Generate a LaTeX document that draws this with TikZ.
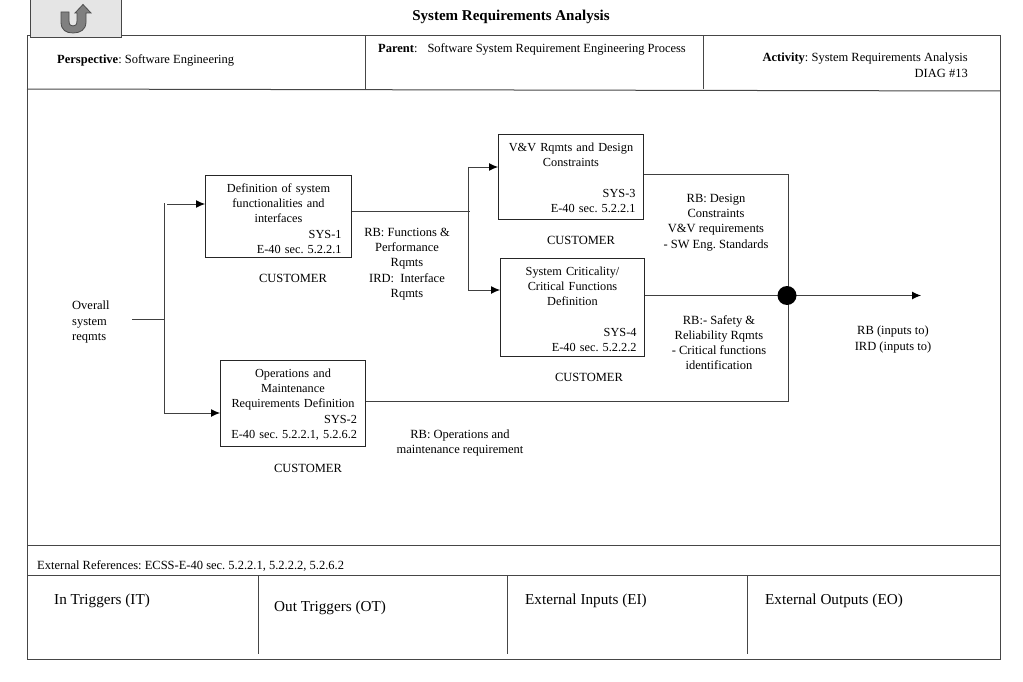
\documentclass[tikz,border=0pt]{standalone}
\usepackage{fontspec}
\setmainfont{Liberation Serif}
\usepackage{xcolor}
\usetikzlibrary{
	arrows.meta,
	calc
}
\definecolor{LineGray}{RGB}{70,70,70}
\definecolor{ButtonGray}{RGB}{229,229,229}
\definecolor{IconGray}{RGB}{128,128,128}
\tikzset{
	rule/.style={line width=1pt, LineGray},
	wire/.style={line width=0.9pt, black!75},
	flow/.style={wire, -{Latex[length=9pt,width=8pt,black]}},
	txt/.style={inner sep=0pt, align=center, font=\frenchspacing\fontsize{12.5}{15.2}\selectfont},
	leftxt/.style={txt, align=left, anchor=west},
	bigtxt/.style={inner sep=0pt, anchor=west, font=\fontsize{15.2}{17}\selectfont},
	funcbox/.style={draw=black!85, line width=1pt, anchor=north west, align=center, inner xsep=8pt, inner ysep=0pt, font=\frenchspacing\fontsize{12.3}{15.2}\selectfont}
}

\begin{document}
\begin{tikzpicture}[x=1pt, y=-1pt]
	\useasboundingbox (0,0) rectangle (1023,682);

	% frame
	\draw[rule] (27,36) -- (27,659) -- (1000,659) -- (1000,36) -- cycle;
	\draw[rule] (27,89) -- (1000,91);
	\draw[rule] (365,36) -- (365,89);
	\draw[rule] (703,36) -- (703,89);
	\draw[rule] (27,545) -- (1000,545);
	\draw[rule] (27,575) -- (1000,575);
	\draw[rule] (258,575) -- (258,654);
	\draw[rule] (507,575) -- (507,654);
	\draw[rule] (747,575) -- (747,654);

	% return button
	\draw[fill=ButtonGray, draw=LineGray, line width=1pt] (30,0) rectangle (121,38);
	\draw[fill=IconGray, draw=black!70, line width=0.8pt]
		(61,12) -- (69,12) -- (69,21) .. controls (69,25) and (71,26) .. (73,26)
		.. controls (75,26) and (77,25) .. (77,21) -- (77,13) -- (75,13) -- (83,4.5)
		-- (91,13) -- (86,13) -- (86,22) .. controls (86,30) and (80,33) .. (73,33)
		.. controls (66,33) and (61,30) .. (61,22) -- cycle;

	% title and header
	\node[txt, font=\fontsize{15}{17}\selectfont\bfseries] (title) at (511,17) {System Requirements Analysis};
	\node[leftxt] (persp) at (57,60.5) {\textbf{Perspective}: Software Engineering};
	\node[leftxt] (parent) at (378,49) {\textbf{Parent}:\hspace{10pt}Software System Requirement Engineering Process};
	\node[txt, align=right, anchor=north east] (activity) at (968,53) {\textbf{Activity}: System Requirements Analysis\\DIAG \#13};

	% function boxes
	\node[funcbox, inner xsep=10pt, text width=126pt] (sys1) at (205,175)
		{\rule{0pt}{17pt}Definition of system\\functionalities and\\interfaces\\\hfill SYS-1\\\hfill E-40 sec. 5.2.2.1\rule[-4pt]{0pt}{4pt}};
	\node[funcbox, text width=129pt] (sys3) at (498,134)
		{\rule{0pt}{17pt}V\&V Rqmts and Design\\Constraints\\[15.2pt]\hfill SYS-3\\\hfill E-40 sec. 5.2.2.1\rule[-7pt]{0pt}{7pt}};
	\node[funcbox, text width=128pt] (sys4) at (500,258)
		{\rule{0pt}{17pt}System Criticality/\\Critical Functions\\Definition\\[15.2pt]\hfill SYS-4\\\hfill E-40 sec. 5.2.2.2\rule[-5pt]{0pt}{5pt}};
	\node[funcbox, inner xsep=8.5pt, text width=128pt] (sys2) at (220,360)
		{\rule{0pt}{17pt}Operations and\\Maintenance\\Requirements Definition\\\hfill SYS-2\\\hfill \mbox{E-40 sec. 5.2.2.1, 5.2.6.2}\rule[-8pt]{0pt}{8pt}};

	\node[txt] (cust1) at (293,278.5) {CUSTOMER};
	\node[txt] (cust3) at (581,240.5) {CUSTOMER};
	\node[txt] (cust4) at (589,377) {CUSTOMER};
	\node[txt] (cust2) at (308,468) {CUSTOMER};

	% flow labels
	\node[leftxt, align=left] (overall) at (72,322) {Overall\\system\\reqmts};
	\node[txt] (rbfunc) at (407,264) {RB: Functions \&\\Performance\\Rqmts\\IRD:\ \ Interface\\Rqmts};
	\node[txt] (rbdesign) at (716,222.5) {RB: Design\\Constraints\\V\&V requirements\\- SW Eng. Standards};
	\node[txt] (rbsafety) at (719,342.5) {RB:- Safety \&\\Reliability Rqmts\\- Critical functions\\identification};
	\node[txt] (rbops) at (460,443) {RB: Operations and\\maintenance requirement};
	\node[txt] (rbout) at (893,339.5) {RB (inputs to)\\IRD (inputs to)};

	% connectors
	\coordinate (inL) at (132,319);
	\coordinate (inJ) at (164,319);
	\coordinate (inT) at (164,203);
	\coordinate (inB) at (164,413);
	\coordinate (inS) at (167,204);
	\coordinate (midR) at (470,211);
	\coordinate (midT) at (468,167);
	\coordinate (midB) at (468,290);
	\coordinate (merge) at (787,295.5);
	\coordinate (outE) at (921,295.5);

	\draw[wire] (inL) -- (inJ);
	\draw[wire] (inT) -- (inB);
	\draw[flow] (inS) -- (inS -| sys1.west);
	\draw[flow] (inB) -- (inB -| sys2.west);
	\draw[wire] (sys1.east |- midR) -- (midR);
	\draw[wire] (midT) -- (midB);
	\draw[flow] (midT) -- (midT -| sys3.west);
	\draw[flow] (midB) -- (midB -| sys4.west);
	\draw[wire] (sys3.east |- 0,174) -- (788,174) -- (merge -| 788,0);
	\draw[wire] (sys4.east |- merge) -- (merge);
	\draw[wire] (sys2.east |- 0,401) -- (788,401) -- (merge -| 788,0);
	\draw[flow] (merge) -- (outE);
	\fill (merge) circle (9.5pt);

	% bottom strip
	\node[leftxt] (extref) at (37,566) {External References: ECSS-E-40 sec. 5.2.2.1, 5.2.2.2, 5.2.6.2};
	\node[bigtxt] (intrig) at (54,601) {In Triggers (IT)};
	\node[bigtxt] (outtrig) at (274,608) {Out Triggers (OT)};
	\node[bigtxt] (extin) at (525,601) {External Inputs (EI)};
	\node[bigtxt] (extout) at (765,601) {External Outputs (EO)};
\end{tikzpicture}
\end{document}
